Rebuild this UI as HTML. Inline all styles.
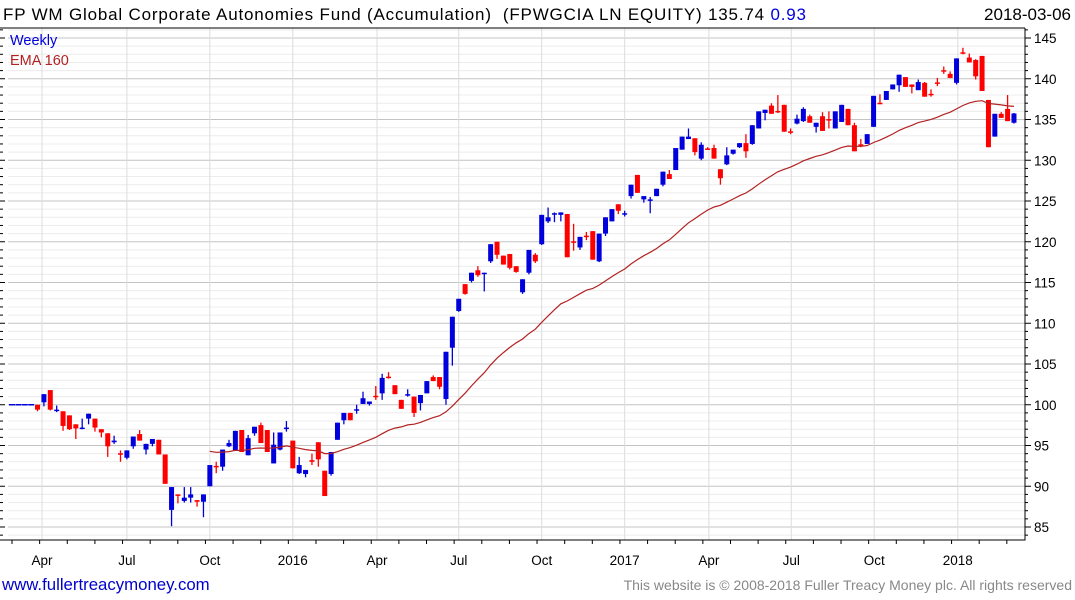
<!DOCTYPE html>
<html><head><meta charset="utf-8"><style>
body{margin:0;background:#fff;width:1075px;height:600px;overflow:hidden;font-family:"Liberation Sans",sans-serif}
svg{display:block}
</style></head><body>
<svg id="chart" width="1075" height="600" xmlns="http://www.w3.org/2000/svg">
<text x="3" y="20" font-size="17" fill="#000" textLength="803" lengthAdjust="spacing">FP WM Global Corporate Autonomies Fund (Accumulation)&#160; (FPWGCIA LN EQUITY) 135.74 <tspan fill="#0000dd">0.93</tspan></text>
<text x="1071" y="20" font-size="17" fill="#000" text-anchor="end">2018-03-06</text>
<g id="grid"></g>
<g id="marks"></g>
<text x="10" y="45" font-size="14.5" fill="#0000dd">Weekly</text>
<text x="10" y="65" font-size="14.5" fill="#b22222">EMA 160</text>
<text x="2" y="590" font-size="16.8" fill="#0000cc">www.fullertreacymoney.com</text>
<text x="1072" y="590" font-size="14" fill="#888" text-anchor="end">This website is © 2008-2018 Fuller Treacy Money plc. All rights reserved</text>
</svg>
<script>
const opens=[100,100,100,100,100,100.3,101.8,99.3,99.2,98.7,97.6,97.1,98.3,98.3,97.0,96.5,95.4,94.05,93.5,94.9,96.4,94.5,95.2,95.7,93.9,87.1,89.0,88.2,88.6,88.3,88.1,90.0,92.5,92.4,94.9,94.4,96.9,93.8,96.5,97.5,96.9,92.8,94.5,97.1,95.6,91.6,91.5,93.2,95.4,91.9,91.5,95.7,98.1,99.0,99.4,100.1,100.1,101.1,101.4,103.45,102.4,100.6,101.2,101.0,100.2,101.4,103.4,103.4,100.7,107.0,111.5,114.8,115.2,116.5,116.15,117.6,120.0,118.3,118.5,117.0,113.8,116.2,118.4,119.7,122.5,123.45,123.3,123.4,120.05,119.3,120.75,121.3,117.6,121.0,122.5,124.6,123.45,125.6,128.2,125.2,125.15,125.6,127.0,128.3,128.8,131.3,132.6,132.7,130.2,131.45,131.5,128.9,129.5,130.8,131.6,132.1,132.0,133.9,135.8,136.7,136.05,136.8,133.55,134.5,134.8,135.4,134.1,135.4,135.05,133.9,134.7,136.3,134.3,131.95,132.0,134.1,137.05,137.4,138.7,139.2,140.2,139.3,138.6,139.5,138.15,139.55,141.05,140.6,139.5,143.25,142.6,142.3,142.8,137.4,132.9,135.7,136.3,134.6];
const highs=[100,100,100,100,100,101.3,101.8,99.9,99.2,98.7,97.6,98.3,98.9,98.3,97.0,96.5,96.2,94.4,94.4,96.1,96.9,95.2,95.8,95.7,93.9,89.9,89.0,89.9,89.9,88.3,89.0,92.6,93.0,94.5,95.7,96.8,96.9,96.3,97.3,97.8,96.9,96.6,96.6,98.0,95.6,93.6,92.0,94.0,95.4,91.9,94.2,97.8,99.0,99.0,100.0,101.6,100.4,102.3,103.8,104.0,102.4,100.6,101.9,101.0,101.2,102.9,103.6,103.4,106.5,110.8,113.0,114.8,116.2,117.0,116.2,119.7,120.0,118.3,118.5,117.0,115.4,119.0,118.6,123.3,124.2,123.6,123.6,123.4,122.2,120.6,121.2,121.3,121.0,123.0,124.0,124.6,123.8,127.0,128.2,125.6,125.5,126.5,128.6,128.8,131.5,132.9,133.9,132.7,132.2,131.6,131.9,128.9,131.6,131.3,132.1,133.2,134.3,136.0,136.2,137.0,138.0,136.8,133.9,135.6,136.5,135.6,134.6,135.9,136.0,136.0,136.8,136.3,134.6,132.6,133.2,137.9,138.1,138.5,139.3,140.5,140.2,139.3,139.9,139.6,138.7,140.1,141.5,140.9,142.5,143.8,143.1,142.4,142.8,137.4,135.7,135.9,138.0,135.8];
const lows=[100,100,100,100,99.2,99.8,99.3,99.1,96.8,96.9,95.8,97.0,97.6,96.7,96.0,93.6,95.2,93.0,93.3,94.6,95.6,93.9,94.9,93.9,90.3,85.1,87.9,88.0,88.0,87.5,86.2,90.0,91.6,91.9,94.8,94.4,94.2,93.8,96.2,95.3,94.2,92.8,94.4,96.7,92.2,91.5,91.1,92.6,92.4,88.8,91.3,95.7,97.6,98.1,98.9,100.1,99.9,100.6,100.6,103.2,101.3,99.5,101.0,98.5,99.3,101.4,102.9,101.9,100.0,104.8,111.4,113.5,115.0,115.7,113.9,117.4,117.9,117.2,116.6,116.2,113.6,116.0,117.4,119.6,122.3,122.4,122.5,118.1,118.9,119.0,120.2,117.8,117.5,120.7,122.5,123.4,123.1,125.3,126.0,124.8,123.5,125.6,126.8,127.7,128.8,131.3,132.6,130.6,130.0,131.3,130.2,127.0,129.4,130.7,131.5,130.3,131.9,133.9,134.9,135.7,135.8,133.5,133.2,134.4,134.7,134.6,133.4,133.6,133.9,133.9,134.7,134.3,131.1,131.6,132.0,134.1,136.9,137.4,138.7,138.4,139.0,138.2,138.6,137.8,137.8,139.1,140.6,140.1,139.3,143.0,142.0,139.9,138.5,131.6,132.9,135.2,134.8,134.5];
const closes=[100,100,100,100,99.4,101.3,99.4,99.4,97.4,97.0,97.1,97.2,98.9,97.2,96.6,94.9,95.6,94.0,94.4,96.1,95.6,95.2,95.8,93.9,90.3,89.9,88.9,88.6,89.0,88.1,89.0,92.6,92.4,94.5,95.3,96.8,94.2,95.9,97.3,95.3,94.2,95.1,96.6,97.2,92.2,92.6,92.0,93.0,93.3,88.8,94.2,97.8,99.0,98.1,99.45,100.8,100.4,101.0,103.3,103.4,101.3,99.5,101.3,99.0,101.2,102.9,102.9,102.2,106.5,110.8,113.0,113.6,116.2,115.9,116.2,119.7,118.4,117.2,116.8,116.3,115.4,119.0,117.6,123.3,123.0,123.5,123.6,118.1,120.0,120.6,120.7,117.8,121.0,123.0,124.0,123.8,123.5,127.0,126.0,125.6,125.2,126.5,128.6,127.7,131.5,132.9,132.9,131.0,131.9,131.4,130.2,127.8,130.6,131.3,132.1,131.1,134.3,136.0,136.2,135.7,136.0,133.5,133.5,135.1,136.3,134.6,134.6,133.6,135.0,136.0,136.8,134.3,131.1,131.9,133.2,137.9,137.0,138.5,139.3,140.5,139.0,139.0,139.6,137.8,138.1,139.5,141.0,140.1,142.5,143.2,142.0,140.3,138.5,131.6,135.7,135.2,134.8,135.74];
const yTicks=[85,90,95,100,105,110,115,120,125,130,135,140,145];
const xTickLabels=["Apr","Jul","Oct","2016","Apr","Jul","Oct","2017","Apr","Jul","Oct","2018"];
const xTickWeeks=[4.7,18.0,31.0,44.0,57.2,70.0,83.0,96.0,109.2,122.1,135.1,148.2];
const emaPeriod=32, emaStart=31;

const NS="http://www.w3.org/2000/svg";
const L=8,R=1025,T=28,B=540;
const X=i=>12+i*6.382;
const Y=v=>38+(145-v)*8.15;
function mk(tag,attrs,parent){const e=document.createElementNS(NS,tag);for(const k in attrs)e.setAttribute(k,attrs[k]);parent.appendChild(e);return e;}
const grid=document.getElementById('grid'),marks=document.getElementById('marks');
for(let v=84;v<=146;v++){const y=Y(v);if(y<T||y>B)continue;
  const ln=mk('line',{x1:L,x2:R,y1:y,y2:y,stroke:v%5==0?'#c4c4c4':'#ececec','stroke-width':1},grid);
  
  
  const tk=mk('line',{x1:R,x2:R+(v%5==0?6:3),y1:y,y2:y,stroke:'#000'},grid);
  
  
  const lt=mk('line',{x1:0,x2:(v%5==0?5:3),y1:y,y2:y,stroke:'#000'},grid);
  
  
}
yTicks.forEach(v=>{const t=mk('text',{x:1034,y:Y(v)+5,'font-size':13.5,fill:'#000'},grid);t.textContent=v;
  
  });
xTickWeeks.forEach((w,k)=>{const x=X(w);
  const g=mk('line',{x1:x,x2:x,y1:T,y2:B,stroke:'#dcdcdc'},grid);
  
  
  const t=mk('text',{x:x,y:565,'font-size':13.5,fill:'#000','text-anchor':'middle'},grid);t.textContent=xTickLabels[k];
  
  });
for(let i=0;i<closes.length;i+=4.33){const x=X(i);const tk=mk('line',{x1:x,x2:x,y1:B,y2:B+4,stroke:'#000'},grid);
  
  }
const ax=mk('path',{d:`M${R} ${T}V${B}H0M0 ${T}H${R}`,fill:'none',stroke:'#000','stroke-width':1},grid);


closes.forEach((c,i)=>{const o=opens[i],x=X(i);
  const col=(c>=o)?'#0000dd':'#ff0000';
  if(highs[i]===lows[i]){const d=mk('line',{x1:x-3,x2:x+3,y1:Y(c),y2:Y(c),stroke:col,'stroke-width':1.5},marks);
    return;}
  const w=mk('line',{x1:x,x2:x,y1:Y(highs[i]),y2:Y(lows[i]),stroke:col,'stroke-width':1.3},marks);
  
  
  const top=Y(Math.max(o,c)),h=Math.max(1.5,Math.abs(Y(o)-Y(c)));
  const b=mk('rect',{x:x-2.5,y:top,width:5,height:h,fill:col},marks);
  
  
});
let e=closes[0];const a=2/(emaPeriod+1);let pts=[];
closes.forEach((c,i)=>{e=i==0?c:e+a*(c-e);if(i>=emaStart)pts.push(X(i).toFixed(1)+','+Y(e).toFixed(1));});
const p=mk('polyline',{points:pts.join(' '),fill:'none',stroke:'#b22222','stroke-width':1.2},marks);


</script>
</body></html>
